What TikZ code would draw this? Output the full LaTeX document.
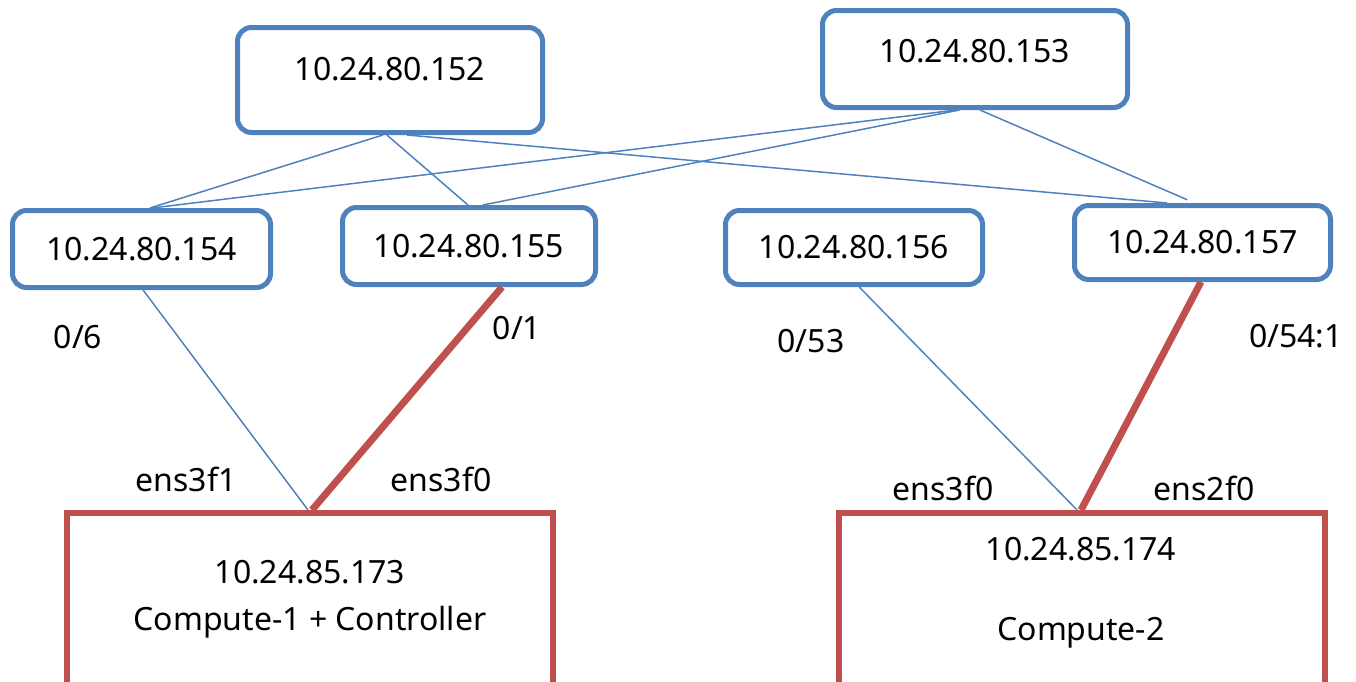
\documentclass[tikz,border=0pt]{standalone}
\usepackage{fontspec}
\setmainfont{Noto Sans}
\usetikzlibrary{calc}
\definecolor{swblue}{RGB}{79,129,189}
\definecolor{hostred}{RGB}{192,80,77}
\tikzset{
  switch/.style={draw=swblue, line width=2.5pt, rounded corners=7pt, fill=white, inner sep=0pt, font=\fontsize{16}{19}\selectfont},
  host/.style={draw=hostred, line width=3pt, inner sep=0pt, minimum width=243pt, minimum height=100pt},
  port/.style={inner sep=0.75pt, font=\fontsize{16}{19}\selectfont},
  link/.style={draw=swblue, line width=0.75pt},
  bond/.style={draw=hostred, line width=3.5pt},
}

\begin{document}
\begin{tikzpicture}[x=0.5pt,y=0.5pt,yscale=-1,xscale=1]
\clip (0,0) rectangle (1356,681);

%Switches, top row
\node[switch, minimum width=152.5pt, minimum height=52.5pt, text height=8pt, text depth=8pt] (s152) at (390,80) {10.24.80.152};
\node[switch, minimum width=152.5pt, minimum height=48.5pt, text height=9pt, text depth=5.1pt] (s153) at (975,59) {10.24.80.153};
%Switches, second row
\node[switch, minimum width=129pt, minimum height=38.5pt] (s154) at (141.5,249) {10.24.80.154};
\node[switch, minimum width=126.5pt, minimum height=38.5pt] (s155) at (469,246) {10.24.80.155};
\node[switch, minimum width=128.5pt, minimum height=37pt] (s156) at (854,247.5) {10.24.80.156};
\node[switch, minimum width=128pt, minimum height=37pt] (s157) at (1202.5,242.5) {10.24.80.157};

%Hosts
\node[host] (c1) at (310,613) {};
\node[host] (c2) at (1082,613) {};
\node[port, align=center] (c1txt) at (310,599.5) {10.24.85.173\\[4.5pt]Compute-1 + Controller};
\node[port, align=center] (c2txt) at (1081,593) {10.24.85.174\\[21pt]Compute-2};

%Uplinks
\draw[link] ($(s152.south west)!0.477!(s152.south east)$) -- ($(s154.north west)!0.532!(s154.north east)$);
\draw[link] ($(s152.south west)!0.49!(s152.south east)$) -- ($(s155.north west)!0.496!(s155.north east)$);
\draw[link] ($(s152.south west)!0.555!(s152.south east)$) -- ($(s157.north west)!0.364!(s157.north east)$);
\draw[link] ($(s153.south west)!0.44!(s153.south east)$) -- ($(s154.north west)!0.54!(s154.north east)$);
\draw[link] ($(s153.south west)!0.45!(s153.south east)$) -- ($(s155.north west)!0.554!(s155.north east)$);
\draw[link, shorten >=4pt] ($(s153.south west)!0.516!(s153.south east)$) -- ($(s157.north west)!0.47!(s157.north east)$);

%Host links
\draw[link] ($(s154.south west)!0.506!(s154.south east)$) -- ($(c1.north west)!0.496!(c1.north east)$);
\draw[bond] ($(s155.south west)!0.628!(s155.south east)$) -- ($(c1.north west)!0.504!(c1.north east)$);
\draw[link] ($(s156.south west)!0.52!(s156.south east)$) -- ($(c2.north west)!0.49!(c2.north east)$);
\draw[bond] ($(s157.south west)!0.494!(s157.south east)$) -- ($(c2.north west)!0.498!(c2.north east)$);

% Text Node
\node[port] (p6) at (78,337) {0/6};
% Text Node
\node[port] (p1) at (517,328) {0/1};
% Text Node
\node[port] (p53) at (811,341) {0/53};
% Text Node
\node[port] (p54) at (1296,336) {0/54:1};
% Text Node
\node[port] (e1) at (186,479) {ens3f1};
% Text Node
\node[port] (e0) at (441,479) {ens3f0};
% Text Node
\node[port] (e3) at (943,488) {ens3f0};
% Text Node
\node[port] (e2) at (1204,488) {ens2f0};

\end{tikzpicture}
\end{document}
